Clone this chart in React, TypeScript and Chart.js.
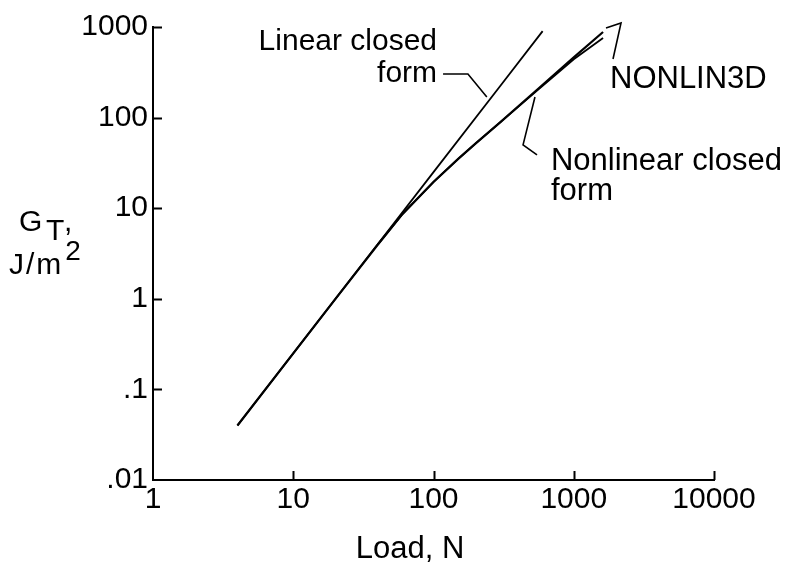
import { useEffect, useRef } from "react";
import { Chart, registerables } from "chart.js";

Chart.register(...registerables);

// ---- data ----
const linearLoad = [4, 10, 40, 100, 300, 600];
const linearG = [0.04, 0.25, 4, 25, 225, 900];

const closedLoad = [4, 10, 20, 40, 60, 100, 150, 200, 300, 550, 1000, 1618];
const closedG = [0.04, 0.25, 1.0, 3.95, 8.6, 19.5, 35, 52, 89, 204, 462, 881];

const nonlin3dLoad = [40, 60, 100, 150, 200, 300, 550, 1000, 1618];
const nonlin3dG = [3.95, 8.6, 19.5, 35, 52, 89, 200, 440, 756];

const xTickValues = [1, 10, 100, 1000, 10000];
const xTickLabels = ["1", "10", "100", "1000", "10000"];
const yTickValues = [0.01, 0.1, 1, 10, 100, 1000];
const yTickLabels = [".01", ".1", "1", "10", "100", "1000"];

// annotation anchors, in data units (load, G)
const linearLeader = [[117, 303], [176, 303], [240, 169]];
const closedLeader = [[529, 169], [435, 50], [547, 38.7]];
const nonlinLeader = [[1905, 443], [2173, 1107], [1698, 975]];

const FONT = '"Liberation Sans", Arial, Helvetica, sans-serif';

const toPts = (xs: number[], ys: number[]) => xs.map((x, i) => ({ x, y: ys[i] }));

const annotationPlugin = {
  id: "annotations",
  afterDraw(chart: any) {
    const { ctx, scales, chartArea } = chart;
    const xs = scales.x;
    const ys = scales.y;
    const px = (v: number) => xs.getPixelForValue(v);
    const py = (v: number) => ys.getPixelForValue(v);
    ctx.save();
    ctx.strokeStyle = "#000";
    ctx.fillStyle = "#000";

    // inward tick marks
    ctx.lineWidth = 2;
    ctx.beginPath();
    xTickValues.slice(1).forEach((v) => {
      const x = Math.round(px(v)) + 0.5;
      ctx.moveTo(x, chartArea.bottom);
      ctx.lineTo(x, chartArea.bottom - 9);
    });
    yTickValues.slice(1).forEach((v) => {
      const y = Math.round(py(v)) + 0.5;
      ctx.moveTo(chartArea.left, y);
      ctx.lineTo(chartArea.left + 9, y);
    });
    ctx.stroke();

    // leader lines
    ctx.lineWidth = 1.6;
    [linearLeader, closedLeader, nonlinLeader].forEach((pts) => {
      ctx.beginPath();
      pts.forEach(([a, b], i) => {
        if (i === 0) ctx.moveTo(px(a), py(b));
        else ctx.lineTo(px(a), py(b));
      });
      ctx.stroke();
    });

    // annotation texts
    ctx.font = `30px ${FONT}`;
    ctx.textBaseline = "alphabetic";
    ctx.textAlign = "right";
    ctx.fillText("Linear closed", px(106), py(557));
    ctx.fillText("form", px(106), py(247));
    ctx.textAlign = "left";
    ctx.font = `31px ${FONT}`;
    ctx.fillText("Nonlinear closed", px(688), py(26.4));
    ctx.fillText("form", px(688), py(12.3));
    ctx.fillText("NONLIN3D", px(1813), py(212));

    // axis titles
    ctx.textAlign = "center";
    ctx.fillText("Load, N", 410, 558);

    ctx.textAlign = "left";
    ctx.font = `30px ${FONT}`;
    ctx.fillText("G", 19, 231);
    ctx.fillText("T", 46, 240);
    ctx.fillText(",", 64, 231);
    try {
      (ctx as any).letterSpacing = "2px";
    } catch (e) {}
    ctx.fillText("J/m", 9, 274);
    const w = ctx.measureText("J/m").width;
    try {
      (ctx as any).letterSpacing = "0px";
    } catch (e) {}
    ctx.font = `28px ${FONT}`;
    ctx.fillText("2", 9 + w + 2, 260);
    ctx.restore();
  },
};

export default function App() {
  const canvasRef = useRef<HTMLCanvasElement | null>(null);

  useEffect(() => {
    const canvas = canvasRef.current;
    if (!canvas) return;
    const lineDs = (label: string, xs: number[], ys: number[], w: number) => ({
      label,
      data: toPts(xs, ys),
      showLine: true,
      borderColor: "#000",
      backgroundColor: "#000",
      borderWidth: w,
      pointRadius: 0,
      tension: 0,
      fill: false,
    });
    const chart = new Chart(canvas, {
      type: "scatter",
      data: {
        datasets: [
          lineDs("Linear closed form", linearLoad, linearG, 1.8),
          lineDs("Nonlinear closed form", closedLoad, closedG, 2.2),
          lineDs("NONLIN3D", nonlin3dLoad, nonlin3dG, 1.8),
        ],
      },
      options: {
        responsive: false,
        animation: false,
        devicePixelRatio: 1,
        layout: { padding: { left: 0, right: 78, top: 27, bottom: 0 } },
        plugins: { legend: { display: false }, tooltip: { enabled: false } },
        scales: {
          x: {
            type: "logarithmic",
            min: 1,
            max: 10000,
            afterBuildTicks: (s: any) => {
              s.ticks = xTickValues.map((value) => ({ value }));
            },
            afterFit: (s: any) => {
              s.height = 89;
            },
            ticks: {
              autoSkip: false,
              maxRotation: 0,
              padding: 2,
              color: "#000",
              font: { family: FONT, size: 30 },
              callback: (v: any) => xTickLabels[xTickValues.indexOf(Number(v))] ?? "",
            },
            grid: { display: true, drawOnChartArea: false, drawTicks: false, color: "rgba(0,0,0,0)" },
            border: { display: true, color: "#000", width: 2 },
          },
          y: {
            type: "logarithmic",
            min: 0.01,
            max: 1000,
            afterBuildTicks: (s: any) => {
              s.ticks = yTickValues.map((value) => ({ value }));
            },
            afterFit: (s: any) => {
              s.width = 153;
            },
            ticks: {
              autoSkip: false,
              padding: 5,
              color: "#000",
              font: { family: FONT, size: 30 },
              callback: (v: any) => {
                const i = yTickValues.findIndex((t) => Math.abs(t - Number(v)) < t * 1e-6);
                return i >= 0 ? yTickLabels[i] : "";
              },
            },
            grid: { display: true, drawOnChartArea: false, drawTicks: false, color: "rgba(0,0,0,0)" },
            border: { display: true, color: "#000", width: 2 },
          },
        },
      },
      plugins: [annotationPlugin],
    });
    return () => chart.destroy();
  }, []);

  return (
    <div style={{ position: "absolute", left: 0, top: 0, width: 792, height: 569, background: "#fff" }}>
      <canvas ref={canvasRef} width={792} height={569} />
    </div>
  );
}
